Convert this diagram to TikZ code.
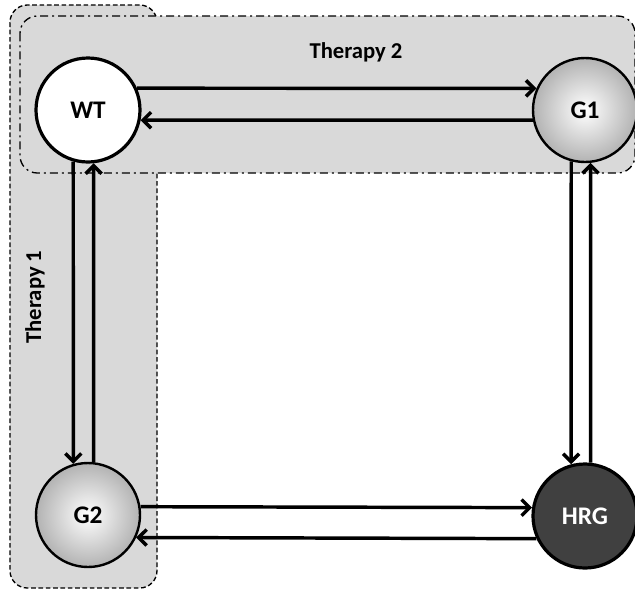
\documentclass[tikz,border=0pt]{standalone}
\usepackage{fontspec}
\setmainfont{Carlito}
\usetikzlibrary{arrows.meta}
\begin{document}
\begin{tikzpicture}[
        x=0.75pt, y=-0.75pt,
        state/.style={circle, draw, line width=1.8pt, minimum size=78pt, inner sep=0pt, font=\fontsize{19}{22}\selectfont\bfseries},
        mutant/.style={state, shading=radial, inner color=white, outer color=gray!60},
        arrow/.style={-{Straight Barb[length=6pt, width=12pt]}, line width=2.6pt},
        therapy/.style={fill=gray!30, rounded corners=13pt, line width=1pt},
        tlabel/.style={font=\fontsize{17}{20}\selectfont\bfseries}
    ]
        \useasboundingbox (0,0) rectangle (635,590);
        \draw[therapy, dash pattern=on 3.5pt off 2pt] (10,5) rectangle (157,588);
        \draw[therapy, dash pattern=on 6pt off 3pt on 1.5pt off 3pt] (20,16) rectangle (635,173);
        \node[tlabel] (t2) at (356,52) {Therapy 2};
        \node[tlabel, rotate=90] (t1) at (35,297) {Therapy 1};

        \node[state, fill=white, line width=2.4pt] (wt) at (88,110) {WT};
        \node[mutant] (g1) at (585,110) {G1};
        \node[mutant] (g2) at (88,515) {G2};
        \node[state, fill=black!75, text=white, line width=2.4pt] (hrg) at (585,516) {HRG};

        \draw[arrow] (wt.24) -- (g1.156);
        \draw[arrow] (g1.191) -- (wt.-11);
        \draw[arrow] (wt.254) -- (g2.106);
        \draw[arrow] (g2.84) -- (wt.276);
        \draw[arrow] (g1.255) -- (hrg.105);
        \draw[arrow] (hrg.84) -- (g1.276);
        \draw[arrow] (g2.9) -- (hrg.171);
        \draw[arrow] (hrg.205) -- (g2.-25);
    \end{tikzpicture}
\end{document}
